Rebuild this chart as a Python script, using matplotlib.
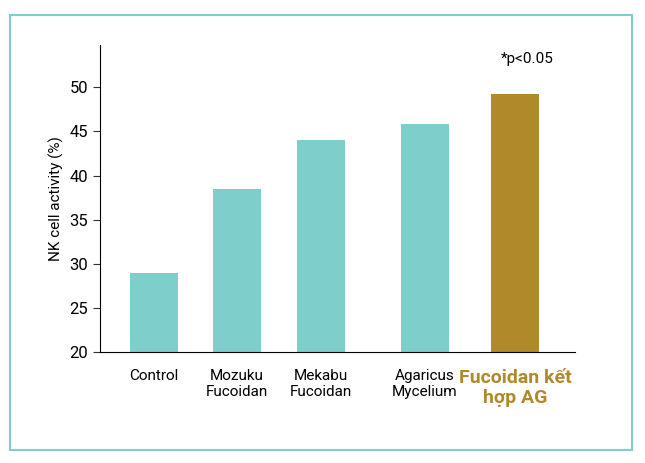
import matplotlib
matplotlib.use("Agg")
import matplotlib.pyplot as plt
from matplotlib.patches import Rectangle

categories = ["Control", "Mozuku\nFucoidan", "Mekabu\nFucoidan", "Agaricus\nMycelium", "Fucoidan kết\nhợp AG"]
values = [29.0, 38.5, 44.0, 45.9, 49.3]
positions = [154, 237, 321, 425, 515]
colors = ["#7ECFCB"] * 4 + ["#B08A2A"]
yticks = [20, 25, 30, 35, 40, 45, 50]

plt.rcParams['font.family'] = ['Liberation Sans Narrow', 'Roboto', 'DejaVu Sans']
fig = plt.figure(figsize=(6.45, 4.63), dpi=100)
fig.patches.append(Rectangle((10/645, 1-450/463), 622/645, 435/463, transform=fig.transFigure,
                             fill=False, edgecolor="#7ECFCB", linewidth=1.5))
ax = fig.add_axes([100/645, 1-352/463, 475/645, 307/463])
ax.bar(positions, [v - 20 for v in values], bottom=20, width=48, color=colors)
ax.set_xlim(100, 575)
ax.set_ylim(20, 54.8)
ax.set_yticks(yticks)
ax.set_yticklabels([str(t) for t in yticks], fontsize=12)
ax.set_xticks(positions)
ax.set_xticklabels(categories[:4] + [""], fontsize=11)
ax.tick_params(axis='y', length=5, color="#333333")
ax.tick_params(axis='x', length=0, pad=12)
for s in ["top", "right"]:
    ax.spines[s].set_visible(False)
ax.text(positions[4], 18.1, categories[4], ha="center", va="top", fontsize=14,
        fontweight="bold", color="#B08A2A", linespacing=1.15)
ax.set_ylabel("NK cell activity (%)", fontsize=11)
ax.text(527, 53.2, "*p<0.05", ha="center", va="center", fontsize=11)
fig.savefig("out.png", dpi=100)
